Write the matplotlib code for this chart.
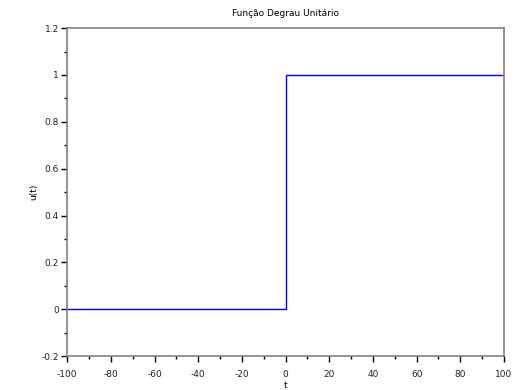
import matplotlib.pyplot as plt
from matplotlib.ticker import MultipleLocator

# step data
t = [-100, 0, 0, 100]
u = [0, 0, 1, 1]

fig = plt.figure(figsize=(5.25, 3.9), dpi=100)
ax = fig.add_axes([0.128, 0.087, 0.832, 0.841])
ax.plot(t, u, color='blue', linewidth=1)

ax.set_xlim(-100, 100)
ax.set_ylim(-0.2, 1.2)
ax.xaxis.set_minor_locator(MultipleLocator(10))
ax.yaxis.set_minor_locator(MultipleLocator(0.1))
ax.set_xticks(range(-100, 101, 20))
ax.set_xticklabels([str(v) for v in range(-100, 101, 20)])
ax.set_yticks([-0.2, 0, 0.2, 0.4, 0.6, 0.8, 1, 1.2])
ax.set_yticklabels(['-0.2', '0', '0.2', '0.4', '0.6', '0.8', '1', '1.2'])

for s in ax.spines.values():
    s.set_color('gray')
    s.set_linewidth(1.2)
ax.tick_params(which='major', direction='out', length=4, width=1, color='black',
               labelsize=6.5, labelcolor='#222222')
ax.tick_params(axis='x', pad=6)
ax.tick_params(axis='y', pad=2)
ax.tick_params(which='minor', direction='out', length=2, width=1, color='black')
ax.tick_params(top=False, right=False, which='both')

ax.set_title('Função Degrau Unitário', fontsize=6.5, pad=9)
ax.set_ylabel('u(t)', fontsize=6.5)
ax.yaxis.set_label_coords(-0.066, 0.5)
ax.set_xlabel('t', fontsize=6.5)
ax.xaxis.set_label_coords(0.5, -0.077)

fig.savefig('out.png', dpi=100)
